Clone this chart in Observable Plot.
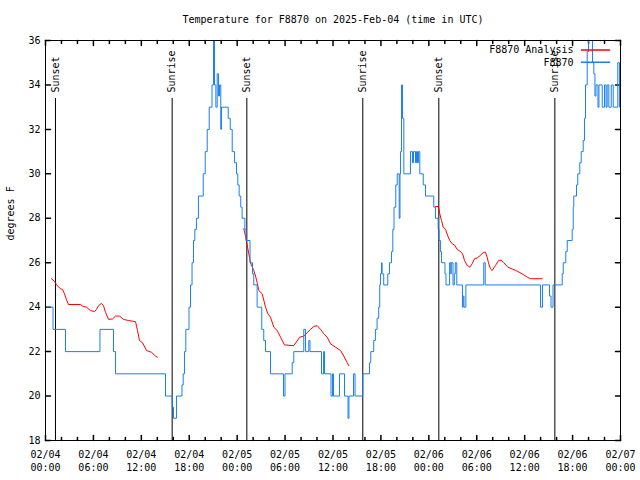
<!DOCTYPE html>
<html><head><meta charset="utf-8">
<script src="https://cdn.jsdelivr.net/npm/d3@7"></script>
<script src="https://cdn.jsdelivr.net/npm/@observablehq/plot@0.6"></script>
<style>body{margin:0;background:#fff} svg{display:block}</style>
</head><body><div id="chart"></div>
<script>
const titleText = "Temperature for F8870 on 2025-Feb-04 (time in UTC)";
const yLabel = "degrees F";
const startDate = "2025-02-04T00:00:00Z";
const endDate = "2025-02-07T00:00:00Z";
const seriesNames = ["F8870 Analysis", "F8870"];
const seriesColors = ["#ff0000", "#1a7ff0"];

// observed temperature (hours since start, °F)
const obsHours = [0,0.94,2.5,6.82,8.51,8.77,15.03,15.87,16.03,16.4,17.09,17.24,17.4,17.57,17.97,18.16,18.35,18.53,18.7,18.9,19.15,19.75,20.0,20.25,20.5,20.85,21.04,21.16,21.33,21.5,21.67,21.79,21.95,22.04,22.88,23.13,23.38,23.67,23.92,24.08,24.25,24.45,24.62,24.96,25.11,25.61,25.92,26.08,26.5,27.08,27.33,27.55,28.17,29.8,29.99,30.89,31.09,32.34,32.56,32.97,33.12,34.56,34.82,34.94,35.75,35.94,36.06,36.81,37.44,37.88,38.0,38.57,38.76,39.73,40.57,40.73,41.1,41.31,41.52,41.72,41.85,41.94,42.07,42.15,42.35,42.86,43.08,43.33,43.49,43.64,43.86,44.04,44.29,44.39,44.45,44.58,44.7,44.87,45.7,45.95,46.08,46.33,46.45,46.58,46.7,46.87,47.3,47.58,48.62,48.83,49.17,49.27,49.45,49.58,50.02,50.15,50.6,50.75,50.81,51.03,51.19,51.31,51.5,52.21,52.3,52.4,52.64,54.88,55.06,61.98,62.23,63.11,63.3,63.55,64.7,64.83,65.15,65.33,65.95,66.08,66.15,66.49,66.65,66.9,67.08,67.33,67.49,67.62,67.83,67.99,68.49,68.66,68.8,68.93,69.18,69.3,69.71,70.0,70.19,70.33,70.54,70.84,71.09,71.66,71.87,72];
const obsTemps = [24,23,22,23,22,21,20,19.5,19,20,20.5,21,22,23,24,25,26,27,27.5,28,29,30,31,32,33,34,37,34,33,34.5,33.5,34,32,33,32.5,32,31,30.5,30,29.5,29,28.5,28,27.5,27,26,25.5,25,24,23,22.5,22,21,20,21,21.5,22,23,22,22.5,22,21,22,21,20,21,20,21,20,19,20,21,20,21,21.5,22,22.5,23,23.5,24,25,25.5,26,25.5,25,25.5,26,26.5,27.5,28.5,29.5,30,28,30,31,34,32.5,30,31,30.5,31,30.5,31,30.5,31,30,29.5,29,28.5,28,27.5,27,26.5,26,25.5,25,26,25.5,26,25,25.5,26,25,24,24.5,24,25,26,25,24,25,24.5,24,25,25.5,26,26.5,27,27.5,28.5,29,29.5,30,30.5,31,31.5,32.5,34,35.5,37,35,34.5,33.5,34,33,34,33,34,33,34,33,34,33,35,33,33];

// analysis temperature (hours since start, °F); NaN marks a gap
const anaHours = [0.75,1.13,1.38,1.88,2.13,2.38,2.63,2.88,4.38,4.63,5.13,5.63,6.14,6.39,6.64,7.01,7.26,7.51,7.89,8.39,8.77,9.27,9.77,10.39,11.27,11.52,11.77,12.15,12.65,13.27,13.77,14.02,
  14.5,
  24.83,25.04,25.46,25.67,26.08,26.3,26.51,26.71,27.13,27.55,27.84,28.17,28.59,29.01,29.43,29.93,31.09,31.84,32.34,32.77,33.18,33.6,34.02,34.44,34.85,35.27,35.69,36.31,36.94,37.35,37.78,37.98,
  38.5,
  48.84,49.21,49.37,49.59,49.8,50.09,50.38,50.63,50.93,51.21,51.55,51.97,52.22,52.47,52.8,53.13,53.42,53.72,54.06,54.47,54.81,55.09,55.3,55.5,55.72,55.93,56.35,56.74,57.06,57.39,57.89,58.44,59.07,59.69,60.32,60.73,62.2];
const anaTemps = [25.28,25.16,25.0,24.83,24.8,24.6,24.33,24.12,24.12,24.05,24.0,23.85,23.8,23.9,24.07,24.17,24.07,23.77,23.45,23.47,23.6,23.6,23.45,23.4,23.35,22.95,22.5,22.4,22.05,21.97,21.8,21.75,
  NaN,
  27.53,27.2,26.4,26.0,25.65,25.4,25.1,24.75,24.6,24.0,23.7,23.55,23.1,22.95,22.65,22.3,22.27,22.65,22.7,22.85,23.0,23.13,23.17,23.0,22.8,22.65,22.35,22.2,22.05,21.8,21.5,21.37,
  NaN,
  28.53,28.53,28.2,27.9,27.6,27.5,27.2,27.0,26.85,26.8,26.6,26.5,26.4,26.1,25.88,25.8,25.95,26.18,26.22,26.33,26.47,26.47,26.25,25.95,25.72,25.65,25.88,26.1,26.12,26.0,25.8,25.72,25.62,25.5,25.35,25.28,25.28];

// sunrise / sunset markers
const eventHours = [1.25, 15.86, 25.21, 39.73, 49.25, 63.78];
const eventLabels = ["Sunset", "Sunrise", "Sunset", "Sunrise", "Sunset", "Sunrise"];

const yTicks = [18, 20, 22, 24, 26, 28, 30, 32, 34, 36];

const t0 = Date.parse(startDate);
const toDate = h => new Date(t0 + h * 3600000);
const obs = obsHours.map((h, i) => ({date: toDate(h), temp: obsTemps[i]}));
const ana = anaHours.map((h, i) => ({date: toDate(h), temp: anaTemps[i]}));
const events = eventHours.map((h, i) => ({date: toDate(h), label: eventLabels[i]}));

const xStart = new Date(startDate), xEnd = new Date(endDate);
const majorX = d3.utcHour.every(6).range(xStart, new Date(+xEnd + 1));
const minorX = d3.utcHour.every(2).range(xStart, new Date(+xEnd + 1)).filter(d => d.getUTCHours() % 6 !== 0);
const fmt = d3.utcFormat("%m/%d\n%H:%M");

const tickUp = {draw(c, l) { c.moveTo(0, 0); c.lineTo(0, -l); }};
const tickDown = {draw(c, l) { c.moveTo(0, 0); c.lineTo(0, l); }};
const tickRight = {draw(c, l) { c.moveTo(0, 0); c.lineTo(l, 0); }};
const tickLeft = {draw(c, l) { c.moveTo(0, 0); c.lineTo(-l, 0); }};

const chart = Plot.plot({
  width: 640,
  height: 480,
  marginLeft: 45,
  marginRight: 20,
  marginTop: 40,
  marginBottom: 40,
  style: {fontFamily: "'DejaVu Sans Mono', monospace", fontSize: "10px", background: "white", color: "black"},
  x: {type: "utc", domain: [xStart, xEnd]},
  y: {domain: [18, 36]},
  marks: [
    Plot.axisX({ticks: majorX, tickFormat: fmt, tickSize: 0, tickPadding: 8, lineHeight: 1.3, fill: "black"}),
    Plot.axisY({ticks: yTicks, tickSize: 0, tickPadding: 5, label: null, fill: "black"}),
    Plot.vectorX(majorX, {x: d => d, frameAnchor: "bottom", length: 5, anchor: "start", shape: tickUp, stroke: "black"}),
    Plot.vectorX(minorX, {x: d => d, frameAnchor: "bottom", length: 3, anchor: "start", shape: tickUp, stroke: "black"}),
    Plot.vectorX(majorX, {x: d => d, frameAnchor: "top", length: 5, anchor: "start", shape: tickDown, stroke: "black"}),
    Plot.vectorX(minorX, {x: d => d, frameAnchor: "top", length: 3, anchor: "start", shape: tickDown, stroke: "black"}),
    Plot.vectorY(yTicks, {y: d => d, frameAnchor: "left", length: 5, anchor: "start", shape: tickRight, stroke: "black"}),
    Plot.vectorY(yTicks, {y: d => d, frameAnchor: "right", length: 5, anchor: "start", shape: tickLeft, stroke: "black"}),
    Plot.ruleX(events, {x: "date", insetTop: 58, stroke: "black", strokeWidth: 1}),
    Plot.text(events, {x: "date", text: "label", frameAnchor: "top", dy: 52, rotate: -90, textAnchor: "start", lineAnchor: "middle", fill: "black"}),
    Plot.line(ana, {x: "date", y: "temp", stroke: seriesColors[0], strokeWidth: 1, clip: true}),
    Plot.line(obs, {x: "date", y: "temp", curve: "step-after", stroke: seriesColors[1], strokeWidth: 1, clip: true}),
    Plot.frame({stroke: "black"}),
    Plot.text([titleText], {frameAnchor: "top", dy: -21, lineAnchor: "middle", fill: "black"}),
    Plot.text([yLabel], {frameAnchor: "left", dx: -35, rotate: -90, lineAnchor: "middle", fill: "black"}),
    ...seriesNames.map((name, i) => Plot.text([name], {frameAnchor: "top-right", dx: -47, dy: 9.5 + 12.3 * i, textAnchor: "end", lineAnchor: "middle", fill: "black"})),
    ...seriesNames.map((name, i) => Plot.vector([name], {frameAnchor: "top-right", dx: -39, dy: 9.5 + 12.3 * i, length: 28, anchor: "start", shape: tickRight, stroke: seriesColors[i]}))
  ]
});
document.getElementById("chart").appendChild(chart);
</script>
</body></html>
